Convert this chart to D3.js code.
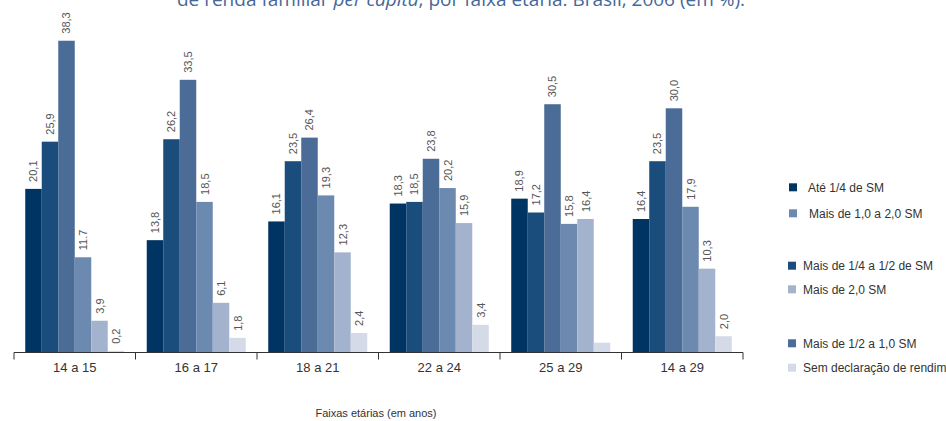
<!DOCTYPE html>
<html>
<head>
<meta charset="utf-8">
<script src="https://cdn.jsdelivr.net/npm/d3@7"></script>
<style>
  html, body { margin: 0; padding: 0; background: #fff; }
  svg { display: block; }
</style>
</head>
<body>
<svg id="chart" width="946" height="421"></svg>
<script>
const categories = ["14 a 15", "16 a 17", "18 a 21", "22 a 24", "25 a 29", "14 a 29"];
const seriesNames = [
  "Até 1/4 de SM",
  "Mais de 1/4 a 1/2 de SM",
  "Mais de 1/2 a 1,0 SM",
  "Mais de 1,0 a 2,0 SM",
  "Mais de 2,0 SM",
  "Sem declaração de rendimento"
];
const ate14      = [20.1, 13.8, 16.1, 18.3, 18.9, 16.4];
const de14a12    = [25.9, 26.2, 23.5, 18.5, 17.2, 23.5];
const de12a1     = [38.3, 33.5, 26.4, 23.8, 30.5, 30.0];
const de1a2      = [11.7, 18.5, 19.3, 20.2, 15.8, 17.9];
const mais2      = [3.9, 6.1, 12.3, 15.9, 16.4, 10.3];
const semDecl    = [0.2, 1.8, 2.4, 3.4, 1.2, 2.0];
// value labels as printed in the source (one printed with a point, one not printed)
const labels = [
  ["20,1", "13,8", "16,1", "18,3", "18,9", "16,4"],
  ["25,9", "26,2", "23,5", "18,5", "17,2", "23,5"],
  ["38,3", "33,5", "26,4", "23,8", "30,5", "30,0"],
  ["11.7", "18,5", "19,3", "20,2", "15,8", "17,9"],
  ["3,9", "6,1", "12,3", "15,9", "16,4", "10,3"],
  ["0,2", "1,8", "2,4", "3,4", "", "2,0"]
];
const colors = ["#003462", "#1a4d7c", "#4a6c96", "#6c89b0", "#a4b3cd", "#d4dae7"];
const titleText = ["de renda familiar ", "per capita", ", por faixa etária. Brasil, 2006 (em %)."];
const xTitle = "Faixas etárias (em anos)";

const series = [ate14, de14a12, de12a1, de1a2, mais2, semDecl];

const svg = d3.select("#chart");
const baseY = 352.5;

const x0 = d3.scaleBand().domain(categories).range([14, 743])
  .paddingInner(0.185).paddingOuter(0.0925);
const x1 = d3.scaleBand().domain(d3.range(series.length)).range([0, x0.bandwidth()]);
const y = d3.scaleLinear().domain([0, 40]).range([baseY, baseY - 40 * 8.14]);

// Title (cut at top, as in the source)
const t = svg.append("text")
  .attr("x", 461).attr("y", 6)
  .attr("text-anchor", "middle")
  .attr("font-family", "'Open Sans', sans-serif")
  .attr("font-size", 19)
  .attr("fill", "#45689a");
t.append("tspan").text(titleText[0]);
t.append("tspan").attr("font-style", "italic").text(titleText[1]);
t.append("tspan").text(titleText[2]);

// Bars
const groups = svg.append("g").selectAll("g")
  .data(categories).join("g")
  .attr("transform", d => `translate(${x0(d)},0)`);

groups.each(function(cat, ci) {
  const g = d3.select(this);
  series.forEach((s, si) => {
    const v = s[ci];
    g.append("rect")
      .attr("x", x1(si))
      .attr("y", y(v))
      .attr("width", x1.bandwidth())
      .attr("height", y(0) - y(v))
      .attr("fill", colors[si]);
    const lab = labels[si][ci];
    if (lab) {
      const cx = x1(si) + x1.bandwidth() / 2 + 4;
      const cy = y(v) - 7;
      g.append("text")
        .attr("transform", `translate(${cx},${cy}) rotate(-90)`)
        .attr("text-anchor", "start")
        .attr("font-family", "'Liberation Sans', Arial, sans-serif")
        .attr("font-size", 11)
        .attr("fill", "#555")
        .text(lab);
    }
  });
});

// X axis
const step = x0.step();
const half = step * x0.paddingInner() / 2;
const tickXs = categories.map(c => x0(c) - half).concat([x0(categories[categories.length - 1]) + x0.bandwidth() + half]);
const axis = svg.append("g");
axis.append("line")
  .attr("x1", tickXs[0]).attr("x2", tickXs[tickXs.length - 1])
  .attr("y1", baseY).attr("y2", baseY)
  .attr("stroke", "#333").attr("stroke-width", 1);
axis.selectAll("line.tick").data(tickXs).join("line")
  .attr("class", "tick")
  .attr("x1", d => d).attr("x2", d => d)
  .attr("y1", baseY).attr("y2", baseY + 7)
  .attr("stroke", "#333").attr("stroke-width", 1);
axis.selectAll("text").data(categories).join("text")
  .attr("x", d => x0(d) + x0.bandwidth() / 2)
  .attr("y", 371.5)
  .attr("text-anchor", "middle")
  .attr("font-family", "'Liberation Sans', Arial, sans-serif")
  .attr("font-size", 13)
  .attr("fill", "#333")
  .text(d => d);

svg.append("text")
  .attr("x", 376).attr("y", 417)
  .attr("text-anchor", "middle")
  .attr("font-family", "'Liberation Sans', Arial, sans-serif")
  .attr("font-size", 11)
  .attr("fill", "#333")
  .text(xTitle);

// Legend
const legendRows = [
  { s: 0, y: 187.3, sx: 789, tx: 808 },
  { s: 3, y: 213.3, sx: 789, tx: 809 },
  { s: 1, y: 265.7, sx: 788, tx: 803 },
  { s: 4, y: 289.3, sx: 788, tx: 803 },
  { s: 2, y: 343.3, sx: 788, tx: 803 },
  { s: 5, y: 367.7, sx: 788, tx: 803 }
];
const lg = svg.append("g");
legendRows.forEach(r => {
  lg.append("rect")
    .attr("x", r.sx).attr("y", r.y - 4)
    .attr("width", 8).attr("height", 8)
    .attr("fill", colors[r.s]);
  lg.append("text")
    .attr("x", r.tx).attr("y", r.y + 4.3)
    .attr("font-family", "'Liberation Sans', Arial, sans-serif")
    .attr("font-size", 12)
    .attr("fill", "#333")
    .text(seriesNames[r.s]);
});
</script>
</body>
</html>
